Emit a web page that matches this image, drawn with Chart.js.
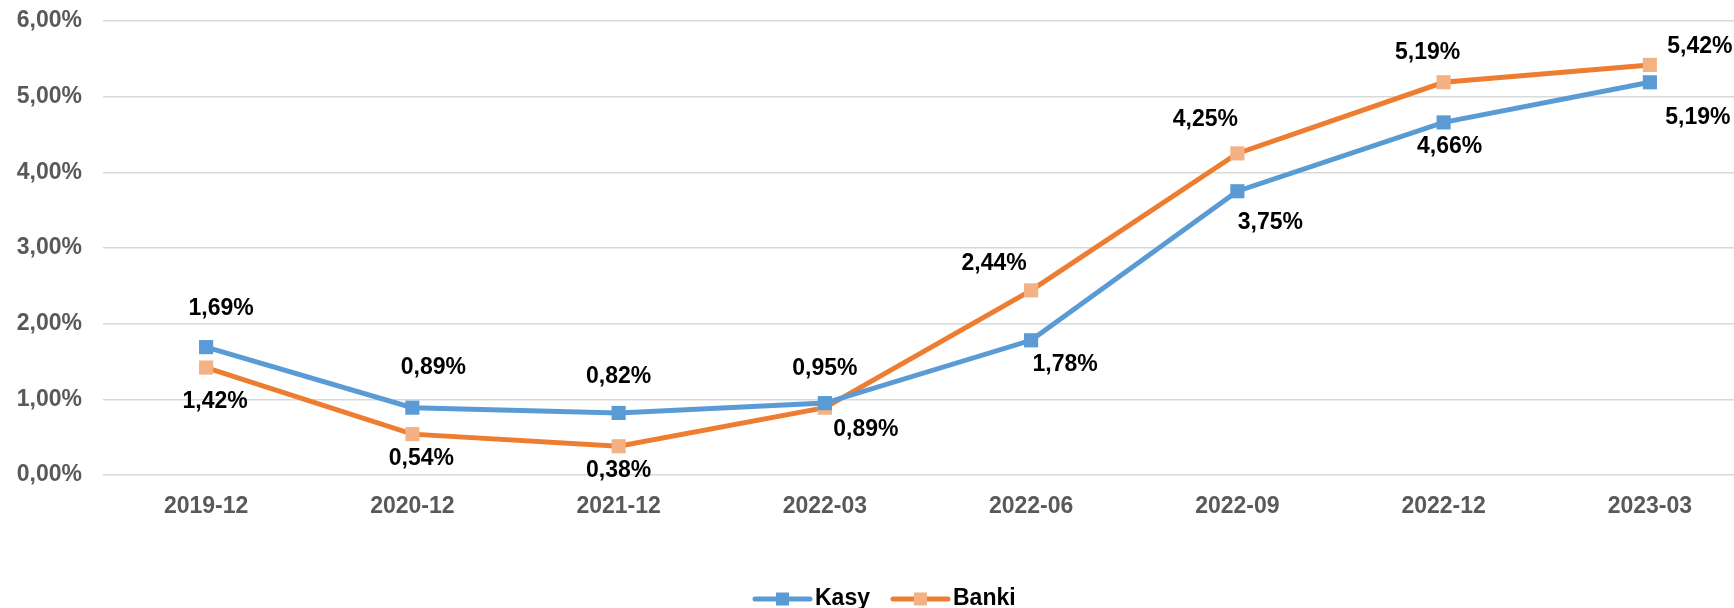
<!DOCTYPE html>
<html>
<head>
<meta charset="utf-8">
<script src="https://cdn.jsdelivr.net/npm/chart.js"></script>
<style>
    html, body { margin: 0; padding: 0; background: #fff; overflow: hidden; }
</style>
</head>
<body>
<canvas id="chart" width="1763" height="608"></canvas>
<script>
// data
const categories = ['2019-12', '2020-12', '2021-12', '2022-03', '2022-06', '2022-09', '2022-12', '2023-03'];
const kasy = [1.69, 0.89, 0.82, 0.95, 1.78, 3.75, 4.66, 5.19];
const banki = [1.42, 0.54, 0.38, 0.89, 2.44, 4.25, 5.19, 5.42];
const yTicks = [0, 1, 2, 3, 4, 5, 6];

// where each value label sits relative to its point (px)
const kasyLabelPos = [[15, -38], [21, -40], [0, -36], [0, -34], [34, 24], [33, 31], [6, 24], [48, 35]];
const bankiLabelPos = [[9, 34], [9, 25], [0, 24], [41, 22], [-37, -27], [-32, -34], [-16, -30], [50, -18]];

const FONT = '"Liberation Sans", Arial, sans-serif';

function fmt(v) {
    return v.toFixed(2).replace('.', ',') + '%';
}

const valueLabels = {
    id: 'valueLabels',
    afterDatasetsDraw(chart) {
        const ctx = chart.ctx;
        ctx.save();
        ctx.font = 'bold 23px ' + FONT;
        ctx.fillStyle = '#000';
        ctx.textAlign = 'center';
        ctx.textBaseline = 'middle';
        chart.data.datasets.forEach((ds, i) => {
            const meta = chart.getDatasetMeta(i);
            meta.data.forEach((pt, j) => {
                const off = ds.labelPos[j];
                ctx.fillText(fmt(ds.data[j]), pt.x + off[0], pt.y + off[1]);
            });
        });
        ctx.restore();
    }
};

const lineLegend = {
    id: 'lineLegend',
    afterDraw(chart) {
        const ctx = chart.ctx;
        const y = 599;
        let x = 755;
        ctx.save();
        ctx.font = 'bold 23px ' + FONT;
        ctx.textBaseline = 'middle';
        ctx.textAlign = 'left';
        chart.data.datasets.forEach((ds) => {
            ctx.strokeStyle = ds.borderColor;
            ctx.lineWidth = 5;
            ctx.lineCap = 'round';
            ctx.beginPath();
            ctx.moveTo(x, y);
            ctx.lineTo(x + 55, y);
            ctx.stroke();
            ctx.fillStyle = ds.pointBackgroundColor;
            ctx.fillRect(x + 27.5 - 6.5, y - 6.5, 13, 13);
            ctx.fillStyle = '#000';
            ctx.fillText(ds.label, x + 60, y);
            x += 60 + ctx.measureText(ds.label).width + 23;
        });
        ctx.restore();
    }
};

new Chart(document.getElementById('chart'), {
    type: 'line',
    data: {
        labels: categories,
        datasets: [
            {
                label: 'Kasy',
                data: kasy,
                labelPos: kasyLabelPos,
                borderColor: '#5B9BD5',
                backgroundColor: '#5B9BD5',
                pointBackgroundColor: '#5B9BD5',
                pointBorderWidth: 0,
                borderWidth: 5,
                pointStyle: 'rect',
                pointRadius: 10,
                tension: 0
            },
            {
                label: 'Banki',
                data: banki,
                labelPos: bankiLabelPos,
                borderColor: '#ED7D31',
                backgroundColor: '#F4B183',
                pointBackgroundColor: '#F4B183',
                pointBorderWidth: 0,
                borderWidth: 5,
                pointStyle: 'rect',
                pointRadius: 10,
                tension: 0
            }
        ]
    },
    options: {
        responsive: false,
        animation: false,
        layout: { padding: { top: 21, right: 0, bottom: 0, left: 0 } },
        plugins: {
            legend: { display: false },
            tooltip: { enabled: false }
        },
        scales: {
            x: {
                offset: true,
                grid: { display: false, drawTicks: false },
                border: { display: false },
                ticks: {
                    color: '#595959',
                    font: { family: FONT, size: 23, weight: 'bold' },
                    padding: 18,
                    maxRotation: 0
                },
                afterFit(scale) { scale.height = 133; }
            },
            y: {
                min: 0,
                max: 6,
                afterBuildTicks(scale) { scale.ticks = yTicks.map(v => ({ value: v })); },
                grid: { color: '#D9D9D9', lineWidth: 1.5, drawTicks: false },
                border: { display: false },
                ticks: {
                    color: '#595959',
                    font: { family: FONT, size: 23, weight: 'bold' },
                    padding: 21,
                    callback: (v) => fmt(v)
                },
                afterFit(scale) {
                    scale.width = 103;
                    scale.paddingTop = 0;
                    scale.paddingBottom = 0;
                }
            }
        }
    },
    plugins: [valueLabels, lineLegend]
});
</script>
</body>
</html>
